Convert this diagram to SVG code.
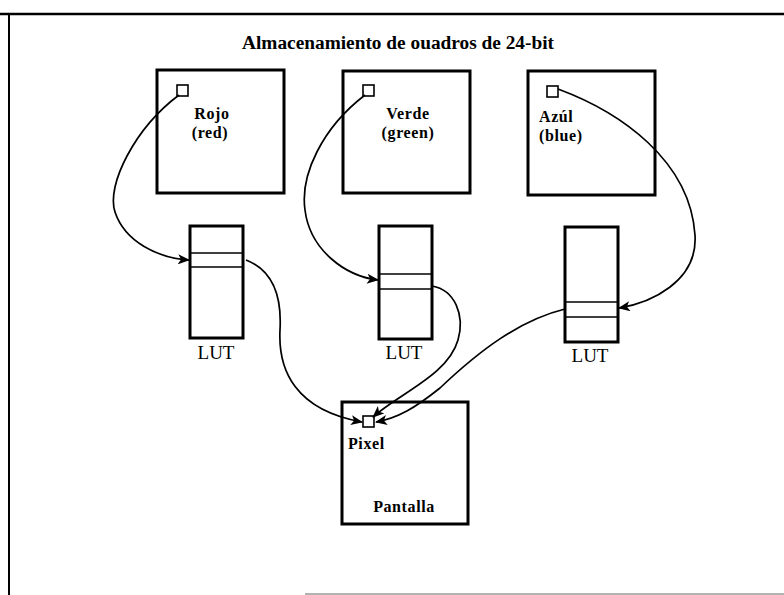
<svg xmlns="http://www.w3.org/2000/svg" width="784" height="595" viewBox="0 0 784 595">
<defs>
<style>
.box{fill:#fff;stroke:#000;stroke-width:3}
.px{fill:#fff;stroke:#000;stroke-width:1.6}
.sep{stroke:#000;stroke-width:1.5}
.lbl{font-family:"Liberation Serif","Times New Roman",serif;font-weight:bold;font-size:16px;letter-spacing:0.6px;fill:#000}
.ttl{font-family:"Liberation Serif","Times New Roman",serif;font-weight:bold;font-size:18px;fill:#000}
.lut{font-family:"Liberation Serif","Times New Roman",serif;font-size:19px;fill:#000}
.c{fill:none;stroke:#000;stroke-width:1.7}
</style>
<marker id="ah" viewBox="0 0 12 10" refX="11" refY="5" markerWidth="12" markerHeight="10" markerUnits="userSpaceOnUse" orient="auto">
<path d="M0,0 L12,5 L0,10 L3,5 Z" fill="#000"/>
</marker>
</defs>
<rect width="784" height="595" fill="#fff"/>
<g id="frame">
<line x1="0" y1="14" x2="784" y2="14" stroke="#000" stroke-width="2.5"/>
<line x1="9" y1="13" x2="9" y2="595" stroke="#000" stroke-width="2"/>
<line x1="305" y1="594" x2="784" y2="594" stroke="#999" stroke-width="1.5"/>
</g>
<text id="title" class="ttl" x="398" y="49" text-anchor="middle" textLength="312" lengthAdjust="spacingAndGlyphs">Almacenamiento de ouadros de 24-bit</text>
<g id="red">
<rect class="box" x="157" y="70" width="127" height="123"/>
<rect class="px" x="177" y="85" width="11" height="11"/>
<text class="lbl" x="212" y="119" text-anchor="middle">Rojo</text>
<text class="lbl" x="210" y="138" text-anchor="middle">(red)</text>
</g>
<g id="green">
<rect class="box" x="343" y="71" width="127" height="122"/>
<rect class="px" x="363" y="85" width="11" height="11"/>
<text class="lbl" x="408" y="119" text-anchor="middle">Verde</text>
<text class="lbl" x="408" y="138" text-anchor="middle">(green)</text>
</g>
<g id="blue">
<rect class="box" x="528" y="71" width="127" height="124"/>
<rect class="px" x="547" y="86" width="11" height="11"/>
<text class="lbl" x="539" y="122">Azúl</text>
<text class="lbl" x="539" y="141">(blue)</text>
</g>
<g id="lut1">
<rect class="box" x="190" y="226" width="53" height="112"/>
<line class="sep" x1="190" y1="253" x2="243" y2="253"/>
<line class="sep" x1="190" y1="267" x2="243" y2="267"/>
<text class="lut" x="216" y="359" text-anchor="middle">LUT</text>
</g>
<g id="lut2">
<rect class="box" x="379" y="226" width="53" height="113"/>
<line class="sep" x1="379" y1="274" x2="432" y2="274"/>
<line class="sep" x1="379" y1="289" x2="432" y2="289"/>
<text class="lut" x="404" y="359" text-anchor="middle">LUT</text>
</g>
<g id="lut3">
<rect class="box" x="565" y="227" width="53" height="115"/>
<line class="sep" x1="565" y1="302" x2="618" y2="302"/>
<line class="sep" x1="565" y1="317" x2="618" y2="317"/>
<text class="lut" x="590" y="362" text-anchor="middle">LUT</text>
</g>
<g id="screen">
<rect class="box" x="342" y="402" width="126" height="122"/>
<rect class="px" x="363" y="416" width="11" height="11"/>
<text class="lbl" x="348" y="449">Pixel</text>
<text class="lbl" x="404" y="512" text-anchor="middle">Pantalla</text>
</g>
<g id="connectors">
<path class="c" d="M179,95 C135,128 106,185 115,212 C125,242 158,258 189,260" marker-end="url(#ah)"/>
<path class="c" d="M365,95 C322,128 300,175 305,210 C310,250 345,276 378,280" marker-end="url(#ah)"/>
<path class="c" d="M558,89 C620,112 690,160 695,235 C698,282 650,303 619,308" marker-end="url(#ah)"/>
<path class="c" d="M246,260 C272,270 282,295 280,330 C278,370 295,410 362,422" marker-end="url(#ah)"/>
<path class="c" d="M432,286 C455,290 465,315 458,340 C448,375 400,393 373,417" marker-end="url(#ah)"/>
<path class="c" d="M565,309 C520,320 480,350 440,388 C415,408 398,418 376,422" marker-end="url(#ah)"/>
</g>
</svg>
